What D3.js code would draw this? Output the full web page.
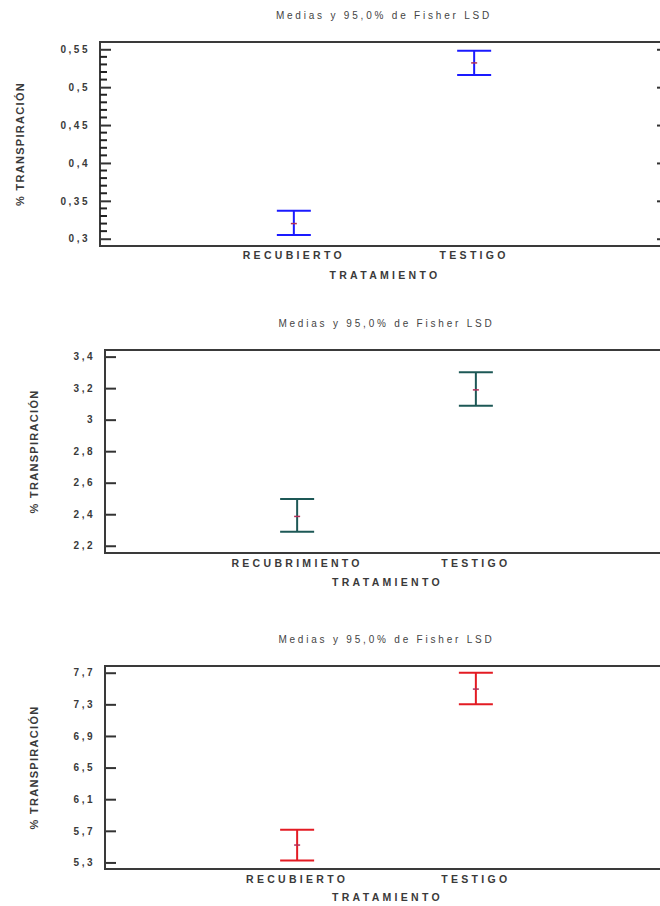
<!DOCTYPE html>
<meta charset="utf-8">
<head>
  <title>Medias y 95,0% de Fisher LSD</title>
</head>

<style>
body { margin: 0; background: #fff; }
text { font-family: "Liberation Sans", Arial, sans-serif; }
.box { fill: none; stroke: #3a3a3a; stroke-width: 2; }
.tick line { stroke: #333; stroke-width: 2; }
.tick text { font-size: 10px; font-weight: bold; fill: #3a3a3a; letter-spacing: 2.5px; }
.domain { display: none; }
.title { font-size: 10px; fill: #444; letter-spacing: 2.8px; }
.lab { font-size: 10.5px; font-weight: bold; fill: #3a3a3a; letter-spacing: 3.3px; }
.ylab { font-size: 11px; font-weight: bold; fill: #3a3a3a; letter-spacing: 1.3px; }
</style>

<body>
  <svg width="660" height="906"></svg>

  <script src="https://cdnjs.cloudflare.com/ajax/libs/d3/7.8.5/d3.min.js"></script>

  <script>
// data
var cats1 = ["RECUBIERTO", "TESTIGO"]
var mean1 = [0.320, 0.532]
var low1 = [0.305, 0.516]
var high1 = [0.337, 0.548]
var ticks1 = [0.3, 0.35, 0.4, 0.45, 0.5, 0.55]
var minor1 = [0.31, 0.32, 0.33, 0.34, 0.36, 0.37, 0.38, 0.39, 0.41, 0.42, 0.43, 0.44,
              0.46, 0.47, 0.48, 0.49, 0.51, 0.52, 0.53, 0.54]

var cats2 = ["RECUBRIMIENTO", "TESTIGO"]
var mean2 = [2.386, 3.189]
var low2 = [2.289, 3.089]
var high2 = [2.496, 3.301]
var ticks2 = [2.2, 2.4, 2.6, 2.8, 3, 3.2, 3.4]

var cats3 = ["RECUBIERTO", "TESTIGO"]
var mean3 = [5.52, 7.493]
var low3 = [5.325, 7.30]
var high3 = [5.713, 7.70]
var ticks3 = [5.3, 5.7, 6.1, 6.5, 6.9, 7.3, 7.7]

var title = "Medias y 95,0% de Fisher LSD"
var xTitle = "TRATAMIENTO"
var yTitle = "% TRANSPIRACIÓN"

var locale = d3.formatLocale({decimal: ",", thousands: ".", grouping: [3], currency: ["", ""]})
var fmt = locale.format("~g")

var svg = d3.select("svg")

var panels = [
  {cats: cats1, mean: mean1, low: low1, high: high1, ticks: ticks1, minor: minor1, dom: [0.2904, 0.5596],
   color: "#1a1aff", left: 100, top: 42, bottom: 246, titleY: 19, labY: 259, xtY: 279, ylX: 24, mirror: true},
  {cats: cats2, mean: mean2, low: low2, high: high2, ticks: ticks2, minor: [], dom: [2.154, 3.442],
   color: "#1d5856", left: 105, top: 350, bottom: 553, titleY: 327, labY: 567, xtY: 586, ylX: 38, mirror: false},
  {cats: cats3, mean: mean3, low: low3, high: high3, ticks: ticks3, minor: [], dom: [5.217, 7.785],
   color: "#e31b23", left: 105, top: 666, bottom: 869, titleY: 643, labY: 883, xtY: 901, ylX: 38, mirror: false}
]
var right = 668

panels.forEach(function(p) {
  var g = svg.append("g")

  var x = d3.scalePoint().domain(p.cats).range([p.left, right]).padding(1.075)
  var y = d3.scaleLinear().domain(p.dom).range([p.bottom, p.top])

  g.append("g")
    .attr("transform", "translate(" + p.left + ",0)")
    .call(d3.axisLeft(y).tickValues(p.ticks).tickSize(-11).tickPadding(10).tickFormat(fmt))
  if (p.mirror) {
    g.append("g")
      .attr("transform", "translate(" + right + ",0)")
      .call(d3.axisRight(y).tickValues(p.ticks).tickSize(-11).tickFormat(""))
  }

  g.append("rect").attr("class", "box")
    .attr("x", p.left).attr("y", p.top)
    .attr("width", right - p.left).attr("height", p.bottom - p.top)

  var cx = (p.left + right) / 2
  g.append("text").attr("class", "title")
    .attr("x", cx).attr("y", p.titleY).attr("text-anchor", "middle").text(title)
  g.append("text").attr("class", "lab")
    .attr("x", cx + 1).attr("y", p.xtY).attr("text-anchor", "middle").text(xTitle)
  g.append("text").attr("class", "ylab")
    .attr("transform", "translate(" + p.ylX + "," + ((p.top + p.bottom) / 2) + ") rotate(-90)")
    .attr("text-anchor", "middle").text(yTitle)

  g.selectAll(".catlab").data(p.cats).enter().append("text")
    .attr("class", "lab")
    .attr("x", function(d) { return x(d) })
    .attr("y", p.labY)
    .attr("text-anchor", "middle")
    .text(function(d) { return d })

  var idx = d3.range(p.cats.length)
  var bars = g.selectAll(".bar").data(idx).enter().append("g")
  bars.append("line")
    .attr("x1", function(i) { return x(p.cats[i]) })
    .attr("x2", function(i) { return x(p.cats[i]) })
    .attr("y1", function(i) { return y(p.low[i]) })
    .attr("y2", function(i) { return y(p.high[i]) })
    .attr("stroke", p.color).attr("stroke-width", 2)
  bars.append("line")
    .attr("x1", function(i) { return x(p.cats[i]) - 17 })
    .attr("x2", function(i) { return x(p.cats[i]) + 17 })
    .attr("y1", function(i) { return y(p.high[i]) })
    .attr("y2", function(i) { return y(p.high[i]) })
    .attr("stroke", p.color).attr("stroke-width", 2)
  bars.append("line")
    .attr("x1", function(i) { return x(p.cats[i]) - 17 })
    .attr("x2", function(i) { return x(p.cats[i]) + 17 })
    .attr("y1", function(i) { return y(p.low[i]) })
    .attr("y2", function(i) { return y(p.low[i]) })
    .attr("stroke", p.color).attr("stroke-width", 2)
  bars.append("line")
    .attr("x1", function(i) { return x(p.cats[i]) - 3 })
    .attr("x2", function(i) { return x(p.cats[i]) + 3 })
    .attr("y1", function(i) { return y(p.mean[i]) })
    .attr("y2", function(i) { return y(p.mean[i]) })
    .attr("stroke", "#b0305a").attr("stroke-width", 1.5)

  // small ticks between the labelled ones
  g.selectAll(".minortick").data(p.minor).enter().append("line")
    .attr("class", "minortick")
    .attr("x1", p.left).attr("x2", p.left + 7)
    .attr("y1", function(d) { return y(d) })
    .attr("y2", function(d) { return y(d) })
    .attr("stroke", "#222").attr("stroke-width", 2)
})
  </script>
</body>
</html>
